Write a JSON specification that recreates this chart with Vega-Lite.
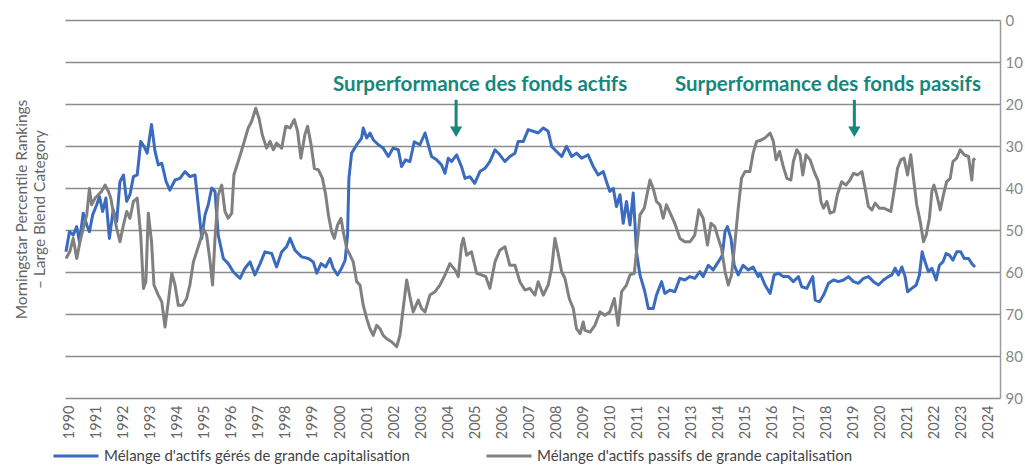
{
  "$schema": "https://vega.github.io/schema/vega-lite/v6.json",
  "width": 935,
  "height": 378,
  "autosize": {"type": "none"},
  "padding": {"left": 65, "top": 20, "right": 25, "bottom": 67},
  "background": "white",
  "config": {"view": {"stroke": null}, "font": "Lato"},
  "layer": [
    {
      "data": {"values": [
        {"serie":"actifs","annee":1989.85,"rang":55.2},{"serie":"actifs","annee":1989.98,"rang":50.4},{"serie":"actifs","annee":1990.12,"rang":51.2},{"serie":"actifs","annee":1990.25,"rang":49.2},{"serie":"actifs","annee":1990.35,"rang":52.8},{"serie":"actifs","annee":1990.49,"rang":46.0},{"serie":"actifs","annee":1990.62,"rang":48.8},{"serie":"actifs","annee":1990.72,"rang":50.4},{"serie":"actifs","annee":1990.84,"rang":46.4},{"serie":"actifs","annee":1990.99,"rang":44.0},{"serie":"actifs","annee":1991.09,"rang":42.0},{"serie":"actifs","annee":1991.21,"rang":45.6},{"serie":"actifs","annee":1991.33,"rang":42.4},{"serie":"actifs","annee":1991.46,"rang":52.0},{"serie":"actifs","annee":1991.60,"rang":45.2},{"serie":"actifs","annee":1991.73,"rang":48.0},{"serie":"actifs","annee":1991.85,"rang":38.5},{"serie":"actifs","annee":1991.98,"rang":36.9},{"serie":"actifs","annee":1992.10,"rang":43.2},{"serie":"actifs","annee":1992.22,"rang":41.6},{"serie":"actifs","annee":1992.35,"rang":37.3},{"serie":"actifs","annee":1992.49,"rang":36.9},{"serie":"actifs","annee":1992.62,"rang":28.9},{"serie":"actifs","annee":1992.74,"rang":30.1},{"serie":"actifs","annee":1992.86,"rang":31.7},{"serie":"actifs","annee":1993.02,"rang":24.9},{"serie":"actifs","annee":1993.15,"rang":31.3},{"serie":"actifs","annee":1993.27,"rang":34.5},{"serie":"actifs","annee":1993.40,"rang":34.1},{"serie":"actifs","annee":1993.56,"rang":38.5},{"serie":"actifs","annee":1993.70,"rang":40.5},{"serie":"actifs","annee":1993.89,"rang":38.1},{"serie":"actifs","annee":1994.07,"rang":37.7},{"serie":"actifs","annee":1994.26,"rang":36.1},{"serie":"actifs","annee":1994.44,"rang":37.3},{"serie":"actifs","annee":1994.63,"rang":36.9},{"serie":"actifs","annee":1994.75,"rang":44.0},{"serie":"actifs","annee":1994.88,"rang":52.0},{"serie":"actifs","annee":1995.00,"rang":46.4},{"serie":"actifs","annee":1995.12,"rang":44.0},{"serie":"actifs","annee":1995.25,"rang":40.0},{"serie":"actifs","annee":1995.37,"rang":40.8},{"serie":"actifs","annee":1995.49,"rang":51.2},{"serie":"actifs","annee":1995.68,"rang":56.8},{"serie":"actifs","annee":1995.86,"rang":58.0},{"serie":"actifs","annee":1996.05,"rang":60.0},{"serie":"actifs","annee":1996.30,"rang":61.5},{"serie":"actifs","annee":1996.48,"rang":59.1},{"serie":"actifs","annee":1996.67,"rang":57.6},{"serie":"actifs","annee":1996.85,"rang":60.7},{"serie":"actifs","annee":1997.04,"rang":58.0},{"serie":"actifs","annee":1997.22,"rang":55.2},{"serie":"actifs","annee":1997.47,"rang":55.6},{"serie":"actifs","annee":1997.65,"rang":58.8},{"serie":"actifs","annee":1997.84,"rang":55.2},{"serie":"actifs","annee":1998.02,"rang":54.0},{"serie":"actifs","annee":1998.15,"rang":52.0},{"serie":"actifs","annee":1998.33,"rang":54.8},{"serie":"actifs","annee":1998.58,"rang":56.4},{"serie":"actifs","annee":1998.83,"rang":56.8},{"serie":"actifs","annee":1999.01,"rang":57.6},{"serie":"actifs","annee":1999.14,"rang":60.3},{"serie":"actifs","annee":1999.30,"rang":58.0},{"serie":"actifs","annee":1999.47,"rang":58.8},{"serie":"actifs","annee":1999.63,"rang":56.8},{"serie":"actifs","annee":1999.75,"rang":59.1},{"serie":"actifs","annee":1999.91,"rang":60.7},{"serie":"actifs","annee":2000.06,"rang":59.1},{"serie":"actifs","annee":2000.19,"rang":57.2},{"serie":"actifs","annee":2000.28,"rang":51.2},{"serie":"actifs","annee":2000.33,"rang":37.7},{"serie":"actifs","annee":2000.43,"rang":31.7},{"serie":"actifs","annee":2000.62,"rang":29.7},{"serie":"actifs","annee":2000.80,"rang":28.1},{"serie":"actifs","annee":2000.86,"rang":25.7},{"serie":"actifs","annee":2000.99,"rang":28.1},{"serie":"actifs","annee":2001.11,"rang":26.9},{"serie":"actifs","annee":2001.23,"rang":28.5},{"serie":"actifs","annee":2001.42,"rang":29.7},{"serie":"actifs","annee":2001.60,"rang":30.5},{"serie":"actifs","annee":2001.79,"rang":32.5},{"serie":"actifs","annee":2001.97,"rang":30.5},{"serie":"actifs","annee":2002.16,"rang":30.9},{"serie":"actifs","annee":2002.28,"rang":34.9},{"serie":"actifs","annee":2002.43,"rang":33.3},{"serie":"actifs","annee":2002.59,"rang":33.7},{"serie":"actifs","annee":2002.75,"rang":29.0},{"serie":"actifs","annee":2002.96,"rang":29.7},{"serie":"actifs","annee":2003.15,"rang":26.9},{"serie":"actifs","annee":2003.27,"rang":29.7},{"serie":"actifs","annee":2003.39,"rang":32.5},{"serie":"actifs","annee":2003.58,"rang":33.3},{"serie":"actifs","annee":2003.76,"rang":34.5},{"serie":"actifs","annee":2003.89,"rang":36.5},{"serie":"actifs","annee":2004.01,"rang":32.9},{"serie":"actifs","annee":2004.13,"rang":33.7},{"serie":"actifs","annee":2004.32,"rang":32.1},{"serie":"actifs","annee":2004.50,"rang":34.9},{"serie":"actifs","annee":2004.63,"rang":37.7},{"serie":"actifs","annee":2004.81,"rang":37.3},{"serie":"actifs","annee":2004.99,"rang":38.9},{"serie":"actifs","annee":2005.18,"rang":36.1},{"serie":"actifs","annee":2005.37,"rang":35.3},{"serie":"actifs","annee":2005.55,"rang":33.7},{"serie":"actifs","annee":2005.74,"rang":30.9},{"serie":"actifs","annee":2005.92,"rang":32.1},{"serie":"actifs","annee":2006.11,"rang":33.7},{"serie":"actifs","annee":2006.29,"rang":32.5},{"serie":"actifs","annee":2006.48,"rang":31.7},{"serie":"actifs","annee":2006.60,"rang":28.9},{"serie":"actifs","annee":2006.79,"rang":28.9},{"serie":"actifs","annee":2006.97,"rang":26.1},{"serie":"actifs","annee":2007.16,"rang":26.5},{"serie":"actifs","annee":2007.34,"rang":26.9},{"serie":"actifs","annee":2007.53,"rang":25.7},{"serie":"actifs","annee":2007.71,"rang":26.5},{"serie":"actifs","annee":2007.84,"rang":30.1},{"serie":"actifs","annee":2008.02,"rang":31.3},{"serie":"actifs","annee":2008.21,"rang":32.5},{"serie":"actifs","annee":2008.39,"rang":30.1},{"serie":"actifs","annee":2008.58,"rang":32.5},{"serie":"actifs","annee":2008.76,"rang":31.7},{"serie":"actifs","annee":2008.95,"rang":32.9},{"serie":"actifs","annee":2009.07,"rang":32.5},{"serie":"actifs","annee":2009.19,"rang":32.1},{"serie":"actifs","annee":2009.38,"rang":34.9},{"serie":"actifs","annee":2009.56,"rang":36.9},{"serie":"actifs","annee":2009.75,"rang":36.1},{"serie":"actifs","annee":2009.87,"rang":38.5},{"serie":"actifs","annee":2009.99,"rang":40.8},{"serie":"actifs","annee":2010.12,"rang":40.1},{"serie":"actifs","annee":2010.24,"rang":44.4},{"serie":"actifs","annee":2010.37,"rang":41.6},{"serie":"actifs","annee":2010.49,"rang":48.4},{"serie":"actifs","annee":2010.61,"rang":43.2},{"serie":"actifs","annee":2010.74,"rang":48.8},{"serie":"actifs","annee":2010.86,"rang":41.2},{"serie":"actifs","annee":2010.92,"rang":48.0},{"serie":"actifs","annee":2010.98,"rang":55.2},{"serie":"actifs","annee":2011.11,"rang":60.7},{"serie":"actifs","annee":2011.29,"rang":64.7},{"serie":"actifs","annee":2011.42,"rang":68.7},{"serie":"actifs","annee":2011.60,"rang":68.7},{"serie":"actifs","annee":2011.72,"rang":65.5},{"serie":"actifs","annee":2011.91,"rang":62.3},{"serie":"actifs","annee":2012.03,"rang":65.1},{"serie":"actifs","annee":2012.22,"rang":64.3},{"serie":"actifs","annee":2012.40,"rang":64.7},{"serie":"actifs","annee":2012.59,"rang":61.5},{"serie":"actifs","annee":2012.77,"rang":61.9},{"serie":"actifs","annee":2012.96,"rang":61.1},{"serie":"actifs","annee":2013.14,"rang":61.5},{"serie":"actifs","annee":2013.33,"rang":59.9},{"serie":"actifs","annee":2013.45,"rang":61.1},{"serie":"actifs","annee":2013.64,"rang":58.4},{"serie":"actifs","annee":2013.82,"rang":59.5},{"serie":"actifs","annee":2014.01,"rang":57.6},{"serie":"actifs","annee":2014.16,"rang":56.0},{"serie":"actifs","annee":2014.26,"rang":50.4},{"serie":"actifs","annee":2014.35,"rang":49.2},{"serie":"actifs","annee":2014.48,"rang":52.0},{"serie":"actifs","annee":2014.60,"rang":58.4},{"serie":"actifs","annee":2014.75,"rang":60.7},{"serie":"actifs","annee":2014.93,"rang":58.4},{"serie":"actifs","annee":2015.12,"rang":59.5},{"serie":"actifs","annee":2015.30,"rang":58.8},{"serie":"actifs","annee":2015.49,"rang":61.1},{"serie":"actifs","annee":2015.56,"rang":60.3},{"serie":"actifs","annee":2015.74,"rang":63.1},{"serie":"actifs","annee":2015.93,"rang":65.1},{"serie":"actifs","annee":2016.08,"rang":60.7},{"serie":"actifs","annee":2016.24,"rang":60.3},{"serie":"actifs","annee":2016.42,"rang":61.1},{"serie":"actifs","annee":2016.61,"rang":61.1},{"serie":"actifs","annee":2016.79,"rang":62.3},{"serie":"actifs","annee":2016.98,"rang":61.1},{"serie":"actifs","annee":2017.10,"rang":63.5},{"serie":"actifs","annee":2017.29,"rang":63.9},{"serie":"actifs","annee":2017.41,"rang":62.3},{"serie":"actifs","annee":2017.51,"rang":61.1},{"serie":"actifs","annee":2017.60,"rang":66.7},{"serie":"actifs","annee":2017.76,"rang":67.1},{"serie":"actifs","annee":2017.91,"rang":65.5},{"serie":"actifs","annee":2018.09,"rang":62.7},{"serie":"actifs","annee":2018.28,"rang":61.9},{"serie":"actifs","annee":2018.46,"rang":62.3},{"serie":"actifs","annee":2018.65,"rang":61.9},{"serie":"actifs","annee":2018.83,"rang":61.1},{"serie":"actifs","annee":2019.02,"rang":62.3},{"serie":"actifs","annee":2019.20,"rang":62.7},{"serie":"actifs","annee":2019.39,"rang":61.5},{"serie":"actifs","annee":2019.57,"rang":61.1},{"serie":"actifs","annee":2019.76,"rang":62.3},{"serie":"actifs","annee":2019.94,"rang":63.1},{"serie":"actifs","annee":2020.13,"rang":61.9},{"serie":"actifs","annee":2020.31,"rang":61.1},{"serie":"actifs","annee":2020.44,"rang":60.7},{"serie":"actifs","annee":2020.56,"rang":59.1},{"serie":"actifs","annee":2020.68,"rang":60.7},{"serie":"actifs","annee":2020.81,"rang":58.8},{"serie":"actifs","annee":2020.93,"rang":61.1},{"serie":"actifs","annee":2021.02,"rang":64.7},{"serie":"actifs","annee":2021.18,"rang":63.9},{"serie":"actifs","annee":2021.34,"rang":63.1},{"serie":"actifs","annee":2021.46,"rang":60.7},{"serie":"actifs","annee":2021.56,"rang":55.2},{"serie":"actifs","annee":2021.67,"rang":57.6},{"serie":"actifs","annee":2021.79,"rang":59.9},{"serie":"actifs","annee":2021.92,"rang":59.1},{"serie":"actifs","annee":2022.08,"rang":61.9},{"serie":"actifs","annee":2022.20,"rang":58.4},{"serie":"actifs","annee":2022.33,"rang":57.6},{"serie":"actifs","annee":2022.45,"rang":55.6},{"serie":"actifs","annee":2022.57,"rang":56.0},{"serie":"actifs","annee":2022.70,"rang":57.2},{"serie":"actifs","annee":2022.84,"rang":55.2},{"serie":"actifs","annee":2022.99,"rang":55.2},{"serie":"actifs","annee":2023.12,"rang":56.8},{"serie":"actifs","annee":2023.28,"rang":56.8},{"serie":"actifs","annee":2023.40,"rang":58.0},{"serie":"actifs","annee":2023.52,"rang":58.8},
        {"serie":"passifs","annee":1989.85,"rang":56.8},{"serie":"passifs","annee":1989.99,"rang":55.2},{"serie":"passifs","annee":1990.12,"rang":52.0},{"serie":"passifs","annee":1990.25,"rang":56.8},{"serie":"passifs","annee":1990.37,"rang":52.8},{"serie":"passifs","annee":1990.49,"rang":49.6},{"serie":"passifs","annee":1990.62,"rang":46.4},{"serie":"passifs","annee":1990.72,"rang":40.1},{"serie":"passifs","annee":1990.80,"rang":44.0},{"serie":"passifs","annee":1990.93,"rang":42.4},{"serie":"passifs","annee":1991.05,"rang":41.6},{"serie":"passifs","annee":1991.17,"rang":40.8},{"serie":"passifs","annee":1991.30,"rang":39.3},{"serie":"passifs","annee":1991.42,"rang":40.8},{"serie":"passifs","annee":1991.51,"rang":42.4},{"serie":"passifs","annee":1991.60,"rang":45.6},{"serie":"passifs","annee":1991.73,"rang":49.6},{"serie":"passifs","annee":1991.85,"rang":52.8},{"serie":"passifs","annee":1991.98,"rang":48.8},{"serie":"passifs","annee":1992.10,"rang":45.6},{"serie":"passifs","annee":1992.22,"rang":47.2},{"serie":"passifs","annee":1992.35,"rang":43.2},{"serie":"passifs","annee":1992.49,"rang":42.4},{"serie":"passifs","annee":1992.62,"rang":51.2},{"serie":"passifs","annee":1992.72,"rang":63.9},{"serie":"passifs","annee":1992.81,"rang":62.3},{"serie":"passifs","annee":1992.90,"rang":46.0},{"serie":"passifs","annee":1993.02,"rang":52.8},{"serie":"passifs","annee":1993.11,"rang":63.1},{"serie":"passifs","annee":1993.27,"rang":65.5},{"serie":"passifs","annee":1993.40,"rang":67.1},{"serie":"passifs","annee":1993.52,"rang":73.1},{"serie":"passifs","annee":1993.64,"rang":67.1},{"serie":"passifs","annee":1993.77,"rang":60.3},{"serie":"passifs","annee":1993.89,"rang":63.1},{"serie":"passifs","annee":1994.01,"rang":67.9},{"serie":"passifs","annee":1994.17,"rang":67.9},{"serie":"passifs","annee":1994.32,"rang":66.3},{"serie":"passifs","annee":1994.44,"rang":63.1},{"serie":"passifs","annee":1994.57,"rang":57.6},{"serie":"passifs","annee":1994.69,"rang":55.2},{"serie":"passifs","annee":1994.81,"rang":52.8},{"serie":"passifs","annee":1994.94,"rang":49.6},{"serie":"passifs","annee":1995.06,"rang":51.2},{"serie":"passifs","annee":1995.19,"rang":57.6},{"serie":"passifs","annee":1995.28,"rang":63.1},{"serie":"passifs","annee":1995.37,"rang":52.0},{"serie":"passifs","annee":1995.49,"rang":41.6},{"serie":"passifs","annee":1995.62,"rang":39.3},{"serie":"passifs","annee":1995.74,"rang":45.6},{"serie":"passifs","annee":1995.86,"rang":47.2},{"serie":"passifs","annee":1995.99,"rang":46.0},{"serie":"passifs","annee":1996.07,"rang":36.9},{"serie":"passifs","annee":1996.23,"rang":33.7},{"serie":"passifs","annee":1996.42,"rang":29.7},{"serie":"passifs","annee":1996.60,"rang":25.7},{"serie":"passifs","annee":1996.73,"rang":24.1},{"serie":"passifs","annee":1996.88,"rang":21.0},{"serie":"passifs","annee":1997.00,"rang":23.4},{"serie":"passifs","annee":1997.12,"rang":27.3},{"serie":"passifs","annee":1997.28,"rang":30.5},{"serie":"passifs","annee":1997.41,"rang":28.9},{"serie":"passifs","annee":1997.53,"rang":30.9},{"serie":"passifs","annee":1997.65,"rang":29.3},{"serie":"passifs","annee":1997.84,"rang":30.5},{"serie":"passifs","annee":1997.99,"rang":25.3},{"serie":"passifs","annee":1998.15,"rang":25.7},{"serie":"passifs","annee":1998.31,"rang":23.7},{"serie":"passifs","annee":1998.43,"rang":26.5},{"serie":"passifs","annee":1998.55,"rang":32.9},{"serie":"passifs","annee":1998.70,"rang":27.3},{"serie":"passifs","annee":1998.80,"rang":25.3},{"serie":"passifs","annee":1998.93,"rang":29.7},{"serie":"passifs","annee":1999.05,"rang":35.3},{"serie":"passifs","annee":1999.20,"rang":35.7},{"serie":"passifs","annee":1999.35,"rang":37.7},{"serie":"passifs","annee":1999.47,"rang":41.6},{"serie":"passifs","annee":1999.57,"rang":46.4},{"serie":"passifs","annee":1999.69,"rang":50.4},{"serie":"passifs","annee":1999.79,"rang":52.0},{"serie":"passifs","annee":1999.91,"rang":48.8},{"serie":"passifs","annee":2000.04,"rang":47.2},{"serie":"passifs","annee":2000.12,"rang":50.4},{"serie":"passifs","annee":2000.25,"rang":54.4},{"serie":"passifs","annee":2000.37,"rang":56.0},{"serie":"passifs","annee":2000.49,"rang":57.6},{"serie":"passifs","annee":2000.62,"rang":62.3},{"serie":"passifs","annee":2000.74,"rang":63.1},{"serie":"passifs","annee":2000.86,"rang":67.9},{"serie":"passifs","annee":2000.99,"rang":71.1},{"serie":"passifs","annee":2001.11,"rang":73.5},{"serie":"passifs","annee":2001.23,"rang":75.1},{"serie":"passifs","annee":2001.36,"rang":72.7},{"serie":"passifs","annee":2001.48,"rang":73.5},{"serie":"passifs","annee":2001.60,"rang":75.1},{"serie":"passifs","annee":2001.73,"rang":75.9},{"serie":"passifs","annee":2001.91,"rang":76.6},{"serie":"passifs","annee":2002.10,"rang":77.8},{"serie":"passifs","annee":2002.22,"rang":75.1},{"serie":"passifs","annee":2002.34,"rang":68.7},{"serie":"passifs","annee":2002.47,"rang":61.9},{"serie":"passifs","annee":2002.59,"rang":65.9},{"serie":"passifs","annee":2002.71,"rang":69.5},{"serie":"passifs","annee":2002.90,"rang":66.7},{"serie":"passifs","annee":2003.02,"rang":68.7},{"serie":"passifs","annee":2003.15,"rang":69.5},{"serie":"passifs","annee":2003.33,"rang":65.5},{"serie":"passifs","annee":2003.52,"rang":64.7},{"serie":"passifs","annee":2003.70,"rang":63.1},{"serie":"passifs","annee":2003.89,"rang":60.7},{"serie":"passifs","annee":2004.07,"rang":58.0},{"serie":"passifs","annee":2004.26,"rang":59.5},{"serie":"passifs","annee":2004.38,"rang":61.1},{"serie":"passifs","annee":2004.50,"rang":53.6},{"serie":"passifs","annee":2004.57,"rang":52.0},{"serie":"passifs","annee":2004.69,"rang":56.0},{"serie":"passifs","annee":2004.87,"rang":55.2},{"serie":"passifs","annee":2005.06,"rang":60.3},{"serie":"passifs","annee":2005.24,"rang":60.7},{"serie":"passifs","annee":2005.40,"rang":61.1},{"serie":"passifs","annee":2005.55,"rang":63.9},{"serie":"passifs","annee":2005.74,"rang":57.6},{"serie":"passifs","annee":2005.92,"rang":54.8},{"serie":"passifs","annee":2006.11,"rang":54.0},{"serie":"passifs","annee":2006.29,"rang":58.4},{"serie":"passifs","annee":2006.48,"rang":58.4},{"serie":"passifs","annee":2006.66,"rang":62.3},{"serie":"passifs","annee":2006.85,"rang":64.3},{"serie":"passifs","annee":2007.03,"rang":63.9},{"serie":"passifs","annee":2007.22,"rang":65.5},{"serie":"passifs","annee":2007.34,"rang":62.3},{"serie":"passifs","annee":2007.53,"rang":65.5},{"serie":"passifs","annee":2007.71,"rang":63.1},{"serie":"passifs","annee":2007.84,"rang":59.1},{"serie":"passifs","annee":2007.96,"rang":52.0},{"serie":"passifs","annee":2008.08,"rang":55.6},{"serie":"passifs","annee":2008.21,"rang":60.0},{"serie":"passifs","annee":2008.33,"rang":61.5},{"serie":"passifs","annee":2008.49,"rang":66.3},{"serie":"passifs","annee":2008.64,"rang":68.7},{"serie":"passifs","annee":2008.76,"rang":73.5},{"serie":"passifs","annee":2008.89,"rang":74.7},{"serie":"passifs","annee":2009.01,"rang":71.9},{"serie":"passifs","annee":2009.07,"rang":73.9},{"serie":"passifs","annee":2009.26,"rang":74.3},{"serie":"passifs","annee":2009.44,"rang":72.7},{"serie":"passifs","annee":2009.63,"rang":69.5},{"serie":"passifs","annee":2009.81,"rang":70.3},{"serie":"passifs","annee":2009.99,"rang":69.5},{"serie":"passifs","annee":2010.16,"rang":66.3},{"serie":"passifs","annee":2010.30,"rang":72.7},{"serie":"passifs","annee":2010.43,"rang":64.7},{"serie":"passifs","annee":2010.61,"rang":63.1},{"serie":"passifs","annee":2010.74,"rang":60.7},{"serie":"passifs","annee":2010.90,"rang":60.3},{"serie":"passifs","annee":2010.98,"rang":55.2},{"serie":"passifs","annee":2011.11,"rang":46.4},{"serie":"passifs","annee":2011.27,"rang":44.8},{"serie":"passifs","annee":2011.48,"rang":38.1},{"serie":"passifs","annee":2011.60,"rang":40.1},{"serie":"passifs","annee":2011.72,"rang":43.2},{"serie":"passifs","annee":2011.85,"rang":44.0},{"serie":"passifs","annee":2011.97,"rang":47.2},{"serie":"passifs","annee":2012.09,"rang":44.0},{"serie":"passifs","annee":2012.26,"rang":46.4},{"serie":"passifs","annee":2012.40,"rang":48.4},{"serie":"passifs","annee":2012.59,"rang":52.0},{"serie":"passifs","annee":2012.77,"rang":52.8},{"serie":"passifs","annee":2012.96,"rang":52.8},{"serie":"passifs","annee":2013.14,"rang":51.2},{"serie":"passifs","annee":2013.29,"rang":45.2},{"serie":"passifs","annee":2013.45,"rang":47.2},{"serie":"passifs","annee":2013.61,"rang":53.6},{"serie":"passifs","annee":2013.74,"rang":48.4},{"serie":"passifs","annee":2013.88,"rang":49.2},{"serie":"passifs","annee":2014.01,"rang":52.0},{"serie":"passifs","annee":2014.13,"rang":54.4},{"serie":"passifs","annee":2014.26,"rang":59.9},{"serie":"passifs","annee":2014.38,"rang":63.1},{"serie":"passifs","annee":2014.50,"rang":60.7},{"serie":"passifs","annee":2014.63,"rang":52.8},{"serie":"passifs","annee":2014.75,"rang":44.8},{"serie":"passifs","annee":2014.87,"rang":37.7},{"serie":"passifs","annee":2015.00,"rang":36.1},{"serie":"passifs","annee":2015.18,"rang":36.1},{"serie":"passifs","annee":2015.30,"rang":31.7},{"serie":"passifs","annee":2015.43,"rang":28.9},{"serie":"passifs","annee":2015.55,"rang":28.7},{"serie":"passifs","annee":2015.74,"rang":28.1},{"serie":"passifs","annee":2015.93,"rang":26.9},{"serie":"passifs","annee":2016.05,"rang":28.9},{"serie":"passifs","annee":2016.15,"rang":33.3},{"serie":"passifs","annee":2016.28,"rang":31.3},{"serie":"passifs","annee":2016.40,"rang":34.5},{"serie":"passifs","annee":2016.55,"rang":37.7},{"serie":"passifs","annee":2016.70,"rang":38.1},{"serie":"passifs","annee":2016.79,"rang":33.7},{"serie":"passifs","annee":2016.92,"rang":30.9},{"serie":"passifs","annee":2017.04,"rang":32.1},{"serie":"passifs","annee":2017.14,"rang":36.9},{"serie":"passifs","annee":2017.26,"rang":32.1},{"serie":"passifs","annee":2017.41,"rang":33.3},{"serie":"passifs","annee":2017.56,"rang":36.1},{"serie":"passifs","annee":2017.72,"rang":38.5},{"serie":"passifs","annee":2017.81,"rang":43.2},{"serie":"passifs","annee":2017.91,"rang":44.8},{"serie":"passifs","annee":2018.03,"rang":43.2},{"serie":"passifs","annee":2018.15,"rang":46.0},{"serie":"passifs","annee":2018.30,"rang":45.6},{"serie":"passifs","annee":2018.42,"rang":41.6},{"serie":"passifs","annee":2018.58,"rang":38.5},{"serie":"passifs","annee":2018.74,"rang":39.3},{"serie":"passifs","annee":2018.89,"rang":38.1},{"serie":"passifs","annee":2019.02,"rang":36.5},{"serie":"passifs","annee":2019.16,"rang":36.9},{"serie":"passifs","annee":2019.33,"rang":36.1},{"serie":"passifs","annee":2019.45,"rang":40.1},{"serie":"passifs","annee":2019.57,"rang":44.4},{"serie":"passifs","annee":2019.70,"rang":45.2},{"serie":"passifs","annee":2019.82,"rang":43.6},{"serie":"passifs","annee":2019.98,"rang":44.8},{"serie":"passifs","annee":2020.13,"rang":44.8},{"serie":"passifs","annee":2020.28,"rang":45.2},{"serie":"passifs","annee":2020.40,"rang":45.6},{"serie":"passifs","annee":2020.52,"rang":40.8},{"serie":"passifs","annee":2020.65,"rang":35.3},{"serie":"passifs","annee":2020.77,"rang":33.3},{"serie":"passifs","annee":2020.89,"rang":32.9},{"serie":"passifs","annee":2021.02,"rang":36.9},{"serie":"passifs","annee":2021.14,"rang":32.1},{"serie":"passifs","annee":2021.24,"rang":37.7},{"serie":"passifs","annee":2021.36,"rang":44.0},{"serie":"passifs","annee":2021.49,"rang":48.0},{"serie":"passifs","annee":2021.61,"rang":52.8},{"serie":"passifs","annee":2021.71,"rang":51.2},{"serie":"passifs","annee":2021.83,"rang":47.2},{"serie":"passifs","annee":2021.92,"rang":40.8},{"serie":"passifs","annee":2022.00,"rang":39.3},{"serie":"passifs","annee":2022.10,"rang":41.6},{"serie":"passifs","annee":2022.23,"rang":45.2},{"serie":"passifs","annee":2022.35,"rang":41.6},{"serie":"passifs","annee":2022.47,"rang":38.5},{"serie":"passifs","annee":2022.60,"rang":37.7},{"serie":"passifs","annee":2022.70,"rang":33.7},{"serie":"passifs","annee":2022.84,"rang":32.9},{"serie":"passifs","annee":2022.97,"rang":30.9},{"serie":"passifs","annee":2023.12,"rang":32.1},{"serie":"passifs","annee":2023.28,"rang":32.5},{"serie":"passifs","annee":2023.40,"rang":38.1},{"serie":"passifs","annee":2023.46,"rang":33.3},{"serie":"passifs","annee":2023.52,"rang":32.9}
      ]},
      "mark": {"type": "line", "strokeWidth": 3, "strokeJoin": "round"},
      "encoding": {
        "x": {
          "field": "annee", "type": "quantitative",
          "scale": {"domain": [1989.815, 2024.444], "nice": false, "zero": false},
          "axis": {
            "title": null,
            "values": [1990,1991,1992,1993,1994,1995,1996,1997,1998,1999,2000,2001,2002,2003,2004,2005,2006,2007,2008,2009,2010,2011,2012,2013,2014,2015,2016,2017,2018,2019,2020,2021,2022,2023,2024],
            "format": "d", "labelAngle": -90, "labelFontSize": 14.5, "labelColor": "#666666",
            "labelFont": "Lato", "ticks": false, "domain": false, "grid": false, "labelPadding": 7,
            "labelOverlap": false, "labelFlush": false, "labelBound": false
          }
        },
        "y": {
          "field": "rang", "type": "quantitative",
          "scale": {"domain": [0, 90], "reverse": true, "nice": false, "zero": false},
          "axis": {
            "orient": "right", "title": null, "values": [0,10,20,30,40,50,60,70,80,90],
            "grid": true, "gridColor": "#8c8c8c", "gridWidth": 1.5, "ticks": false,
            "domain": true, "domainColor": "#9a9a9a", "domainWidth": 1.5,
            "labelColor": "#888888", "labelFontSize": 15, "labelFont": "Lato", "labelPadding": 5
          }
        },
        "color": {
          "field": "serie", "type": "nominal",
          "scale": {"domain": ["actifs", "passifs"], "range": ["#3b6bbf", "#808080"]},
          "legend": {
            "orient": "none", "legendX": -13, "legendY": 412, "direction": "horizontal",
            "title": null, "symbolType": "stroke", "symbolSize": 2025, "symbolStrokeWidth": 3,
            "labelFontSize": 15, "labelFont": "Lato", "labelColor": "#444444", "labelOffset": 4,
            "columnPadding": 70, "labelLimit": 400,
            "labelExpr": "datum.label == 'actifs' ? \"Mélange d'actifs gérés de grande capitalisation\" : \"Mélange d'actifs passifs de grande capitalisation\""
          }
        }
      }
    },
    {
      "data": {"values": [
        {"annee": 2004.3, "haut": 19, "bas": 26},
        {"annee": 2019.05, "haut": 19, "bas": 26}
      ]},
      "mark": {"type": "rule", "color": "#16877b", "strokeWidth": 3},
      "encoding": {
        "x": {"field": "annee", "type": "quantitative", "axis": null},
        "y": {
          "field": "haut", "type": "quantitative",
          "scale": {"domain": [0, 90], "reverse": true, "nice": false, "zero": false},
          "axis": {
            "orient": "left",
            "title": ["Morningstar Percentile Rankings", "– Large Blend Category"],
            "labels": false, "ticks": false, "domain": false, "grid": false,
            "titleFontSize": 15.5, "titleFont": "Lato", "titleFontWeight": "normal",
            "titleColor": "#666666", "titlePadding": 18, "titleLineHeight": 18
          }
        },
        "y2": {"field": "bas"}
      }
    },
    {
      "data": {"values": [
        {"annee": 2004.3, "rang": 26.6},
        {"annee": 2019.05, "rang": 26.6}
      ]},
      "mark": {"type": "point", "shape": "triangle-down", "filled": true, "color": "#16877b", "size": 150, "opacity": 1},
      "encoding": {
        "x": {"field": "annee", "type": "quantitative", "axis": null},
        "y": {"field": "rang", "type": "quantitative", "axis": null}
      }
    },
    {
      "data": {"values": [
        {"annee": 2005.19, "rang": 15.4, "texte": "Surperformance des fonds actifs"},
        {"annee": 2018.07, "rang": 15.4, "texte": "Surperformance des fonds passifs"}
      ]},
      "mark": {"type": "text", "color": "#16877b", "font": "Lato", "fontWeight": "bold", "fontSize": 20.5, "align": "center", "baseline": "middle"},
      "encoding": {
        "x": {"field": "annee", "type": "quantitative", "axis": null},
        "y": {"field": "rang", "type": "quantitative", "axis": null},
        "text": {"field": "texte"}
      }
    }
  ],
  "resolve": {"axis": {"x": "independent", "y": "independent"}}
}
